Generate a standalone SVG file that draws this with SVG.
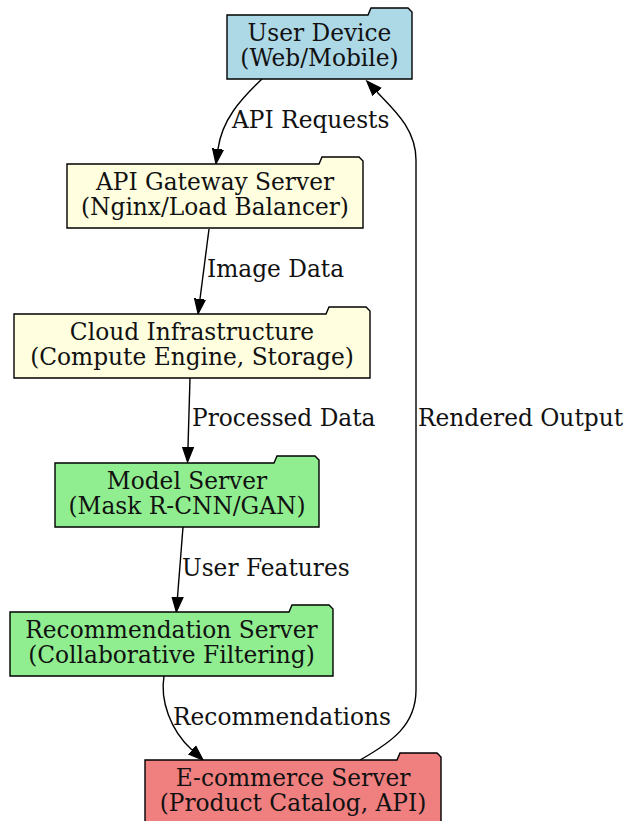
<svg xmlns="http://www.w3.org/2000/svg" width="626" height="821" viewBox="0 0 626 821">
<style>
.node path{stroke:#000;stroke-width:1.4;stroke-linejoin:miter}
.node text,.lbl{font-family:"DejaVu Serif",serif;font-size:23.3px;fill:#111}
.node text{text-anchor:middle}
.edge{fill:none;stroke:#000;stroke-width:1.4}
</style>
<defs>
<marker id="ah" markerUnits="userSpaceOnUse" markerWidth="17" markerHeight="14" viewBox="0 -7 17 14" refX="0" refY="0" orient="auto">
<path d="M0,-5.5 L15,0 L0,5.5 Z" fill="#000" stroke="#000" stroke-width="1.2"/>
</marker>
</defs>
<rect width="626" height="821" fill="#fff"/>
<g id="connectors">
<path class="edge" d="M262,79 C240,100 222,120 218,149" marker-end="url(#ah)"/>
<path class="edge" d="M209,229 L200,299" marker-end="url(#ah)"/>
<path class="edge" d="M190,378 L188,447" marker-end="url(#ah)"/>
<path class="edge" d="M183,527 L177.5,597" marker-end="url(#ah)"/>
<path class="edge" d="M164,676 C160,700 170,730 192,750" marker-end="url(#ah)"/>
<path class="edge" d="M360,760 C392,742 416,725 416,690 L416,160 C416,128 392,108 377,92" marker-end="url(#ah)"/>
<text class="lbl" x="232" y="128">API Requests</text>
<text class="lbl" x="207" y="277">Image Data</text>
<text class="lbl" x="192" y="426">Processed Data</text>
<text class="lbl" x="182" y="576">User Features</text>
<text class="lbl" x="173" y="725">Recommendations</text>
<text class="lbl" x="418" y="426">Rendered Output</text>
</g>
<g id="user_device" class="node">
<path d="M227,15 L368,15 L371,8 L408,8 L412,12 L412,79 L227,79 Z" fill="#add8e6"/>
<text x="319.5" y="41">User Device</text>
<text x="319.5" y="66">(Web/Mobile)</text>
</g>
<g id="api_gateway" class="node">
<path d="M67,164 L319,164 L322,157 L359,157 L363,161 L363,228 L67,228 Z" fill="#ffffe0"/>
<text x="215" y="190">API Gateway Server</text>
<text x="215" y="215">(Nginx/Load Balancer)</text>
</g>
<g id="cloud_infra" class="node">
<path d="M14,314 L326,314 L329,307 L366,307 L370,311 L370,378 L14,378 Z" fill="#ffffe0"/>
<text x="192" y="340">Cloud Infrastructure</text>
<text x="192" y="365">(Compute Engine, Storage)</text>
</g>
<g id="model_server" class="node">
<path d="M55,463 L274,463 L277,456 L315,456 L319,460 L319,527 L55,527 Z" fill="#90ee90"/>
<text x="187" y="489">Model Server</text>
<text x="187" y="514">(Mask R-CNN/GAN)</text>
</g>
<g id="recommendation_server" class="node">
<path d="M10,612 L289,612 L292,605 L329,605 L333,609 L333,676 L10,676 Z" fill="#90ee90"/>
<text x="171.5" y="638">Recommendation Server</text>
<text x="171.5" y="663">(Collaborative Filtering)</text>
</g>
<g id="ecommerce_server" class="node">
<path d="M145,760 L397,760 L400,753 L437,753 L441,757 L441,824 L145,824 Z" fill="#f08080"/>
<text x="293" y="786">E-commerce Server</text>
<text x="293" y="811">(Product Catalog, API)</text>
</g>
</svg>
